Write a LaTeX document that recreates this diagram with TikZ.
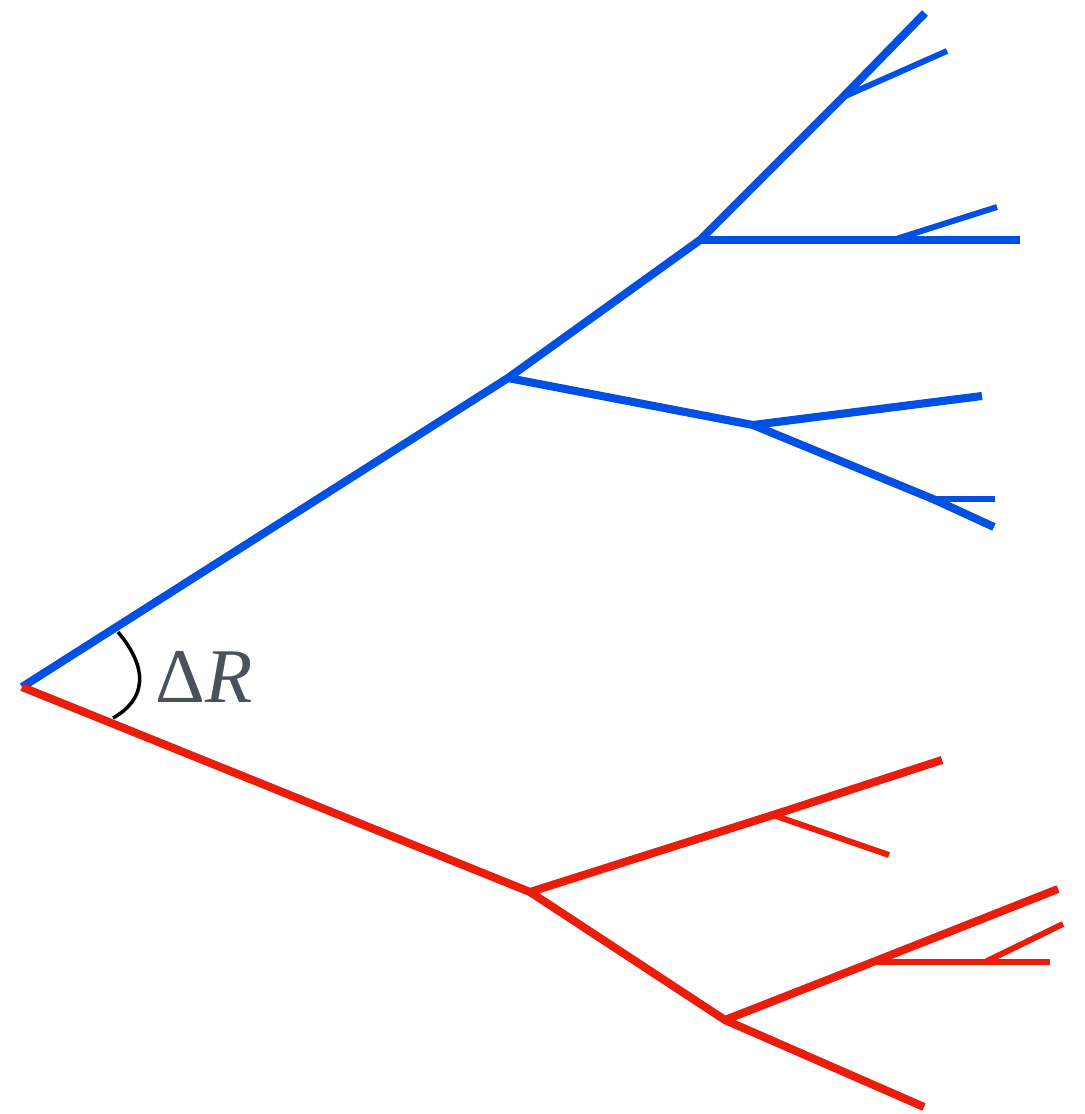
\documentclass[tikz,border=0pt]{standalone}
\usepackage{fontspec}
\usepackage{tikz}
\newfontfamily\labelfont{Liberation Serif}
\definecolor{treeblue}{RGB}{0,80,230}
\definecolor{treered}{RGB}{235,28,10}
\definecolor{labelgray}{RGB}{74,80,92}
\tikzset{bluebranch/.style={draw=treeblue,line width=2.3pt},bluetwig/.style={draw=treeblue,line width=1.7pt},redbranch/.style={draw=treered,line width=2.3pt},redtwig/.style={draw=treered,line width=1.7pt},anglearc/.style={draw=black,line width=1pt}}

\begin{document}
\begin{tikzpicture}[x=0.01cm,y=-0.01cm]
\useasboundingbox (0,0) rectangle (1085,1114);
% branch points
\coordinate (root) at (22,687);
\coordinate (b1) at (508,378);
\coordinate (b2) at (700,240);
\coordinate (b3) at (843,97);
\coordinate (b4) at (893,240);
\coordinate (b5) at (753,425);
\coordinate (b6) at (933,499);
\coordinate (r1) at (530,892);
\coordinate (r2) at (773,815);
\coordinate (r3) at (725,1020);
\coordinate (r4) at (873,962);
\coordinate (r5) at (985,962);
% tips
\coordinate (bt1) at (925,13);
\coordinate (bt2) at (947,51);
\coordinate (bt3) at (997,207);
\coordinate (bt4) at (1020,240);
\coordinate (bt5) at (982,396);
\coordinate (bt6) at (995,499);
\coordinate (bt7) at (994,527);
\coordinate (rt1) at (942,760);
\coordinate (rt2) at (889,855);
\coordinate (rt3) at (1058,889);
\coordinate (rt4) at (1063,924);
\coordinate (rt5) at (1050,962);
\coordinate (rt6) at (924,1107);
% blue tree
\draw[bluebranch] (root)--(b1)--(b2)--(b3)--(bt1);
\draw[bluetwig] (b3)--(bt2);
\draw[bluebranch] (b2)--(b4)--(bt4);
\draw[bluetwig] (b4)--(bt3);
\draw[bluebranch] (b1)--(b5)--(bt5);
\draw[bluebranch] (b5)--(b6)--(bt7);
\draw[bluetwig] (b6)--(bt6);
% red tree
\draw[redbranch] (root)--(r1)--(r2)--(rt1);
\draw[redtwig] (r2)--(rt2);
\draw[redbranch] (r1)--(r3)--(r4)--(rt3);
\draw[redtwig] (r4)--(r5)--(rt5);
\draw[redtwig] (r5)--(rt4);
\draw[redbranch] (r3)--(rt6);
% angle
\coordinate (a1) at (118,632);
\coordinate (a2) at (113,718);
\draw[anglearc] (a1) .. controls (150,670) and (145,700) .. (a2);
\node[text=labelgray,font=\labelfont\fontsize{22}{24}\selectfont,inner sep=0pt] (dr) at (204,677) {Δ\textit{R}};
\end{tikzpicture}
\end{document}
